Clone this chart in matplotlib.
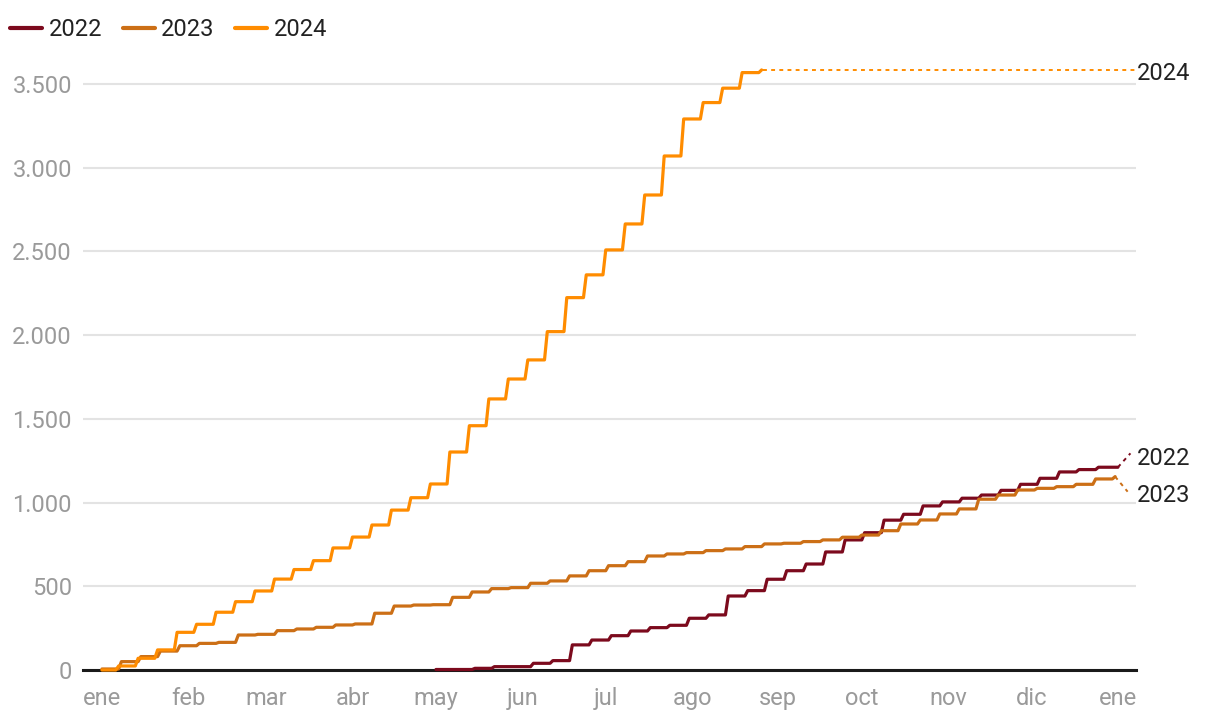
import numpy as np
import matplotlib
matplotlib.use("Agg")
import matplotlib.pyplot as plt
from matplotlib.ticker import FuncFormatter, FixedLocator

plt.rcParams['font.family'] = ['Roboto', 'DejaVu Sans']

# ---------------- data ----------------
month_labels = ["ene", "feb", "mar", "abr", "may", "jun", "jul", "ago",
                "sep", "oct", "nov", "dic", "ene"]
month_days = [0, 31, 59, 90, 120, 151, 181, 212, 243, 273, 304, 334, 365]

series_names = ["2022", "2023", "2024"]
series_colors = ["#7c0a1d", "#cc6f16", "#ff8c00"]

# start day, initial value, first weekly update day, end day
start_2022, init_2022, first_2022, end_2022 = 120, 3, 133, 365
start_2023, init_2023, first_2023, end_2023 = 0, 6, 6, 364
start_2024, init_2024, first_2024, end_2024 = 0, 0, 5, 237

# cumulative values after each weekly update
values_2022 = [10, 20, 20, 40, 56, 150, 179, 205, 233, 253, 267, 309, 329, 442,
               474, 542, 593, 633, 705, 777, 820, 895, 930, 980, 1004, 1026,
               1045, 1073, 1109, 1145, 1183, 1197, 1211]
values_2023 = [50, 80, 113, 145, 159, 165, 209, 213, 235, 245, 255, 269, 275,
               339, 382, 388, 390, 434, 466, 486, 492, 518, 532, 562, 593, 623,
               647, 681, 693, 701, 713, 723, 737, 753, 757, 767, 777, 793, 806,
               832, 872, 896, 932, 962, 1020, 1045, 1075, 1085, 1095, 1109,
               1141, 1155]
values_2024 = [24, 70, 120, 225, 273, 345, 408, 472, 543, 600, 653, 729, 794,
               866, 955, 1029, 1111, 1302, 1459, 1619, 1738, 1852, 2021, 2224,
               2360, 2509, 2664, 2837, 3070, 3291, 3389, 3475, 3568, 3584]

# label positions for the end annotations (value units)
label_vals = {"2022": 1262, "2023": 1040, "2024": 3562}


def step_path(start, init, first, end, vals):
    xs = [start]
    ys = [init]
    prev = init
    for k, v in enumerate(vals):
        d = first + 7 * k
        xs += [d, d + 1]
        ys += [prev, v]
        prev = v
    xs.append(end)
    ys.append(prev)
    return np.array(xs, float), np.array(ys, float)


paths = [
    step_path(start_2022, init_2022, first_2022, end_2022, values_2022),
    step_path(start_2023, init_2023, first_2023, end_2023, values_2023),
    step_path(start_2024, init_2024, first_2024, end_2024, values_2024),
]

# ---------------- figure ----------------
W, H = 1220, 722
fig = plt.figure(figsize=(W / 100, H / 100), dpi=100)
ax = fig.add_axes([83 / W, 1 - 670 / H, (1136 - 83) / W, (670 - 50.5) / H])

XMIN, XMAX = -6.8, 371.5
ax.set_xlim(XMIN, XMAX)
ax.set_ylim(0, 3700)

for (xs, ys), name, col in zip(paths, series_names, series_colors):
    ax.plot(xs, ys, color=col, lw=2.3, solid_joinstyle='round',
            solid_capstyle='round', label=name, zorder=3, clip_on=False)

# connectors to end labels
label_x = 371.9
for (xs, ys), name, col in zip(paths, series_names, series_colors):
    x0, y0 = xs[-1], ys[-1]
    if name == "2024":
        ax.plot([x0 + 0.5, XMAX], [y0, y0], color=col, lw=1.4,
                ls=(0, (2, 2.2)), clip_on=False, zorder=3)
    else:
        ax.plot([x0, x0 + 4.5], [y0, label_vals[name] + (32 if name == "2022" else 25)],
                color=col, lw=1.4, ls=(0, (2, 2.2)), clip_on=False, zorder=3)
    ax.text(label_x, label_vals[name], name, ha='left', va='center', fontsize=17,
            color='#222222', clip_on=False)

# grid / axes styling
ax.set_yticks([0, 500, 1000, 1500, 2000, 2500, 3000, 3500])
ax.yaxis.set_major_formatter(FuncFormatter(lambda v, p: f"{int(v):,}".replace(",", ".")))
ax.xaxis.set_major_locator(FixedLocator(month_days))
ax.set_xticklabels(month_labels)
ax.grid(axis='y', color='#e3e3e3', lw=1.5, zorder=0)
ax.set_axisbelow(True)
for s in ['top', 'right', 'left']:
    ax.spines[s].set_visible(False)
ax.spines['bottom'].set_color('#1a1a1a')
ax.spines['bottom'].set_linewidth(2.2)
ax.spines['bottom'].set_zorder(2)
ax.tick_params(axis='both', length=0, labelsize=17, labelcolor='#9a9a9a')
ax.tick_params(axis='y', pad=8)
ax.tick_params(axis='x', pad=12)

handles, labels = ax.get_legend_handles_labels()
leg = fig.legend(handles, labels, loc='center left',
                 bbox_to_anchor=(10 / W, 1 - 30 / H),
                 ncol=3, frameon=False, fontsize=17, handlelength=1.35,
                 handletextpad=0.28, columnspacing=0.88, borderaxespad=0,
                 borderpad=0)
for t in leg.get_texts():
    t.set_color('#222222')
for l in leg.get_lines():
    l.set_linewidth(3)

fig.savefig("out.png", dpi=100)
